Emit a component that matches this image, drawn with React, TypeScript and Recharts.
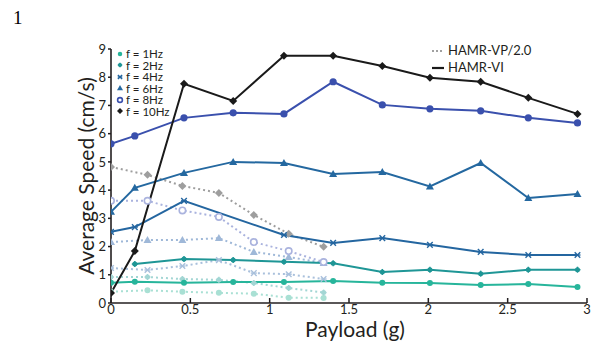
import React from 'react';
import { Label, Line, LineChart, XAxis, YAxis } from 'recharts';

// HAMR-VI (solid) payload positions, g
const payloadVI = [0, 0.15, 0.46, 0.77, 1.09, 1.4, 1.71, 2.01, 2.33, 2.63, 2.94];
const vi1Hz = [0.72, 0.75, 0.72, 0.74, 0.74, 0.78, 0.72, 0.71, 0.64, 0.67, 0.57];
const vi2Hz = [null, 1.38, 1.56, 1.52, 1.46, 1.41, 1.1, 1.18, 1.04, 1.18, 1.18];
const vi4Hz = [2.52, 2.69, 3.62, null, 2.41, 2.13, 2.3, 2.06, 1.81, 1.7, 1.7];
const vi6Hz = [3.23, 4.08, 4.61, 5.0, 4.96, 4.57, 4.64, 4.13, 4.96, 3.72, 3.86];
const vi8Hz = [5.64, 5.92, 6.56, 6.74, 6.7, 7.84, 7.02, 6.88, 6.81, 6.56, 6.38];
const vi10Hz = [0.35, 1.84, 7.77, 7.16, 8.76, 8.76, 8.4, 7.98, 7.84, 7.27, 6.7];

// HAMR-VP/2.0 (dotted) payload positions, g
const payloadVP = [0, 0.23, 0.45, 0.68, 0.9, 1.12, 1.34];
const vp1Hz = [0.4, 0.45, 0.4, 0.36, 0.33, 0.19, 0.18];
const vp2Hz = [0.92, 0.92, 0.85, 0.82, 0.71, 0.53, 0.37];
const vp4Hz = [1.24, 1.17, 1.31, 1.52, 1.06, 1.02, 0.85];
const vp6Hz = [2.16, 2.23, 2.23, 2.3, 1.81, 1.63, 1.42];
const vp8Hz = [3.62, 3.62, 3.28, 3.05, 2.16, 1.84, 1.45];
const vp10Hz = [4.82, 4.54, 4.15, 3.9, 3.12, 2.45, 1.99];

const xTicks = [0, 0.5, 1, 1.5, 2, 2.5, 3];
const yTicks = [0, 1, 2, 3, 4, 5, 6, 7, 8, 9];
const freqLabels = ['f = 1Hz', 'f = 2Hz', 'f = 4Hz', 'f = 6Hz', 'f = 8Hz', 'f = 10Hz'];

const FONT = 'Lato, "Liberation Sans", sans-serif';
const INK = '#231f20';

type Shape = 'dot' | 'star' | 'cross' | 'tri' | 'ring' | 'diamond';

const solidColors = ['#27b59b', '#1f9696', '#2466a0', '#2468a0', '#3a50ad', '#1a1a1a'];
const dottedColors = ['#a9e0d4', '#a3d6d4', '#a9c0dc', '#9fb8d8', '#aab3de', '#9e9e9e'];
const shapes: Shape[] = ['dot', 'star', 'cross', 'tri', 'ring', 'diamond'];

function toRows(xs: number[], ys: (number | null)[]) {
  return xs.map((x, i) => ({ payload: x, speed: ys[i] }));
}

function marker(shape: Shape, cx: number, cy: number, color: string, open: boolean, key?: string, s = 1) {
  switch (shape) {
    case 'dot':
      return <circle key={key} cx={cx} cy={cy} r={3 * s} fill={color} />;
    case 'star':
      return (
        <g key={key} stroke={color} strokeWidth={1.4}>
          <line x1={cx - 3 * s} y1={cy} x2={cx + 3 * s} y2={cy} />
          <line x1={cx} y1={cy - 3 * s} x2={cx} y2={cy + 3 * s} />
          <circle cx={cx} cy={cy} r={1.8 * s} fill={color} />
        </g>
      );
    case 'cross':
      return (
        <g key={key} stroke={color} strokeWidth={1.4}>
          <line x1={cx - 2.8 * s} y1={cy - 2.8 * s} x2={cx + 2.8 * s} y2={cy + 2.8 * s} />
          <line x1={cx - 2.8 * s} y1={cy + 2.8 * s} x2={cx + 2.8 * s} y2={cy - 2.8 * s} />
          <line x1={cx - 3 * s} y1={cy} x2={cx + 3 * s} y2={cy} />
        </g>
      );
    case 'tri':
      return (
        <path key={key} d={`M${cx},${cy - 4 * s}L${cx + 4 * s},${cy + 3 * s}L${cx - 4 * s},${cy + 3 * s}Z`} fill={color} />
      );
    case 'ring':
      return open ? (
        <circle key={key} cx={cx} cy={cy} r={3.2 * s} fill="#fff" stroke={color} strokeWidth={1.6} />
      ) : (
        <circle key={key} cx={cx} cy={cy} r={3.6 * s} fill={color} />
      );
    case 'diamond':
      return (
        <path
          key={key}
          d={`M${cx},${cy - 4 * s}L${cx + 4 * s},${cy}L${cx},${cy + 4 * s}L${cx - 4 * s},${cy}Z`}
          fill={color}
        />
      );
  }
}

const viSeries = [vi1Hz, vi2Hz, vi4Hz, vi6Hz, vi8Hz, vi10Hz];
const vpSeries = [vp1Hz, vp2Hz, vp4Hz, vp6Hz, vp8Hz, vp10Hz];

function XTick(props: any) {
  const { x, y, payload } = props;
  return (
    <g>
      <line x1={x} x2={x} y1={y} y2={y - 5} stroke={INK} strokeWidth={1.5} />
      <text x={x} y={y + 11} textAnchor="middle" fontSize={13} fill={INK} fontFamily={FONT}>
        {payload.value}
      </text>
    </g>
  );
}

export default function App() {
  return (
    <div style={{ position: 'absolute', left: 0, top: 0, width: 594, height: 343, background: '#fff', fontFamily: FONT }}>
      <div style={{ position: 'absolute', left: 13, top: 7, fontFamily: '"Liberation Serif", serif', fontSize: 19, color: '#000' }}>
        1
      </div>
      <LineChart width={594} height={343} margin={{ top: 49, right: 7, bottom: 4, left: 60 }}>
        <XAxis
          type="number"
          dataKey="payload"
          domain={[0, 3]}
          ticks={xTicks}
          allowDataOverflow
          height={36}
          axisLine={{ stroke: INK, strokeWidth: 1.6 }}
          tickLine={false}
          tickSize={0}
          tickMargin={0}
          tick={<XTick />}
        >
          <Label value="Payload (g)" position="center" dx={6} dy={9} fontSize={21} fill={INK} fontFamily={FONT} />
        </XAxis>
        <YAxis
          type="number"
          domain={[0, 9]}
          ticks={yTicks}
          width={51}
          axisLine={{ stroke: INK, strokeWidth: 1.6 }}
          tickLine={{ stroke: INK, strokeWidth: 1.5 }}
          tickSize={3}
          tickMargin={2}
          tick={{ fontSize: 13, fill: INK, fontFamily: FONT }}
        >
          <Label
            value="Average Speed (cm/s)"
            position="center"
            angle={-90}
            dx={1}
            fontSize={21}
            fill={INK}
            fontFamily={FONT}
          />
        </YAxis>
        {vpSeries.map((ys, i) => (
          <Line
            key={`vp${i}`}
            data={toRows(payloadVP, ys)}
            dataKey="speed"
            type="linear"
            stroke={dottedColors[i]}
            strokeWidth={2}
            strokeDasharray="2 3"
            isAnimationActive={false}
            dot={(p: any) =>
              p.cy == null ? <g key={p.key} /> : marker(shapes[i], p.cx, p.cy, dottedColors[i], true, p.key)
            }
            activeDot={false}
          />
        ))}
        {viSeries.map((ys, i) => (
          <Line
            key={`vi${i}`}
            data={toRows(payloadVI, ys)}
            dataKey="speed"
            type="linear"
            connectNulls
            stroke={solidColors[i]}
            strokeWidth={2}
            isAnimationActive={false}
            dot={(p: any) =>
              p.cy == null ? <g key={p.key} /> : marker(shapes[i], p.cx, p.cy, solidColors[i], false, p.key)
            }
            activeDot={false}
          />
        ))}
      </LineChart>

      {/* frequency legend */}
      <div style={{ position: 'absolute', left: 116, top: 48, fontSize: 11.5, color: INK, lineHeight: '11.5px' }}>
        {freqLabels.map((label, i) => (
          <div key={label} style={{ display: 'flex', alignItems: 'center', height: 11.5 }}>
            <svg width={8} height={8} style={{ marginRight: 2 }}>
              {marker(shapes[i], 4, 4, solidColors[i], true, undefined, 0.75)}
            </svg>
            <span style={{ lineHeight: '11px' }}>{label}</span>
          </div>
        ))}
      </div>

      {/* robot legend */}
      <div style={{ position: 'absolute', left: 431, top: 42, fontSize: 13, color: INK, lineHeight: '17px' }}>
        <div style={{ display: 'flex', alignItems: 'center' }}>
          <svg width={14} height={6} style={{ marginRight: 3 }}>
            <line x1={1} x2={13} y1={3} y2={3} stroke="#a0a0a0" strokeWidth={2} strokeDasharray="2 2" />
          </svg>
          <span>HAMR-VP/2.0</span>
        </div>
        <div style={{ display: 'flex', alignItems: 'center' }}>
          <svg width={14} height={6} style={{ marginRight: 3 }}>
            <line x1={1} x2={13} y1={3} y2={3} stroke="#1a1a1a" strokeWidth={2.2} />
          </svg>
          <span>HAMR-VI</span>
        </div>
      </div>
    </div>
  );
}
